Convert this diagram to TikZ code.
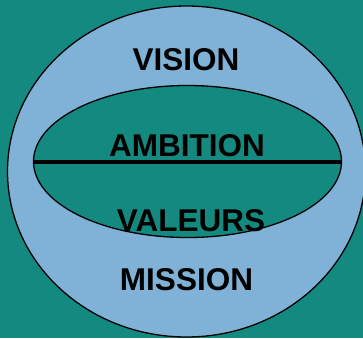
\documentclass[tikz,border=0pt]{standalone}
\usepackage{fontspec}
\setmainfont{Liberation Sans}
\usepackage{tikz}
\usetikzlibrary{positioning,shapes.geometric}
\definecolor{fond}{RGB}{20,137,127}
\definecolor{ciel}{RGB}{127,178,214}
\tikzset{
  zone/.style={ellipse, draw=black, line width=1.3pt, inner sep=0pt},
  mot/.style={anchor=base, inner sep=0pt, font=\fontsize{31.5}{36}\selectfont\bfseries}
}

\begin{document}
\begin{tikzpicture}[x=1pt,y=-1pt]
    \fill[fond] (0,0) rectangle (363,338);
    \useasboundingbox (0,0) rectangle (363,338);
    \node[zone, fill=ciel, minimum width=358pt, minimum height=331pt] (monde) at (186.5,171.5) {};
    \node[zone, fill=fond, minimum width=308pt, minimum height=152pt] (noyau) at (187.5,161.5) {};
    \draw[line width=4pt] (noyau.west) -- (noyau.east);
    \node[mot] (vision) at (186,70) {VISION};
    \node[mot] (ambition) at (187,156) {AMBITION};
    \node[mot] (valeurs) at (191,231.5) {VALEURS};
    \node[mot] (mission) at (186.5,290) {MISSION};
\end{tikzpicture}
\end{document}
